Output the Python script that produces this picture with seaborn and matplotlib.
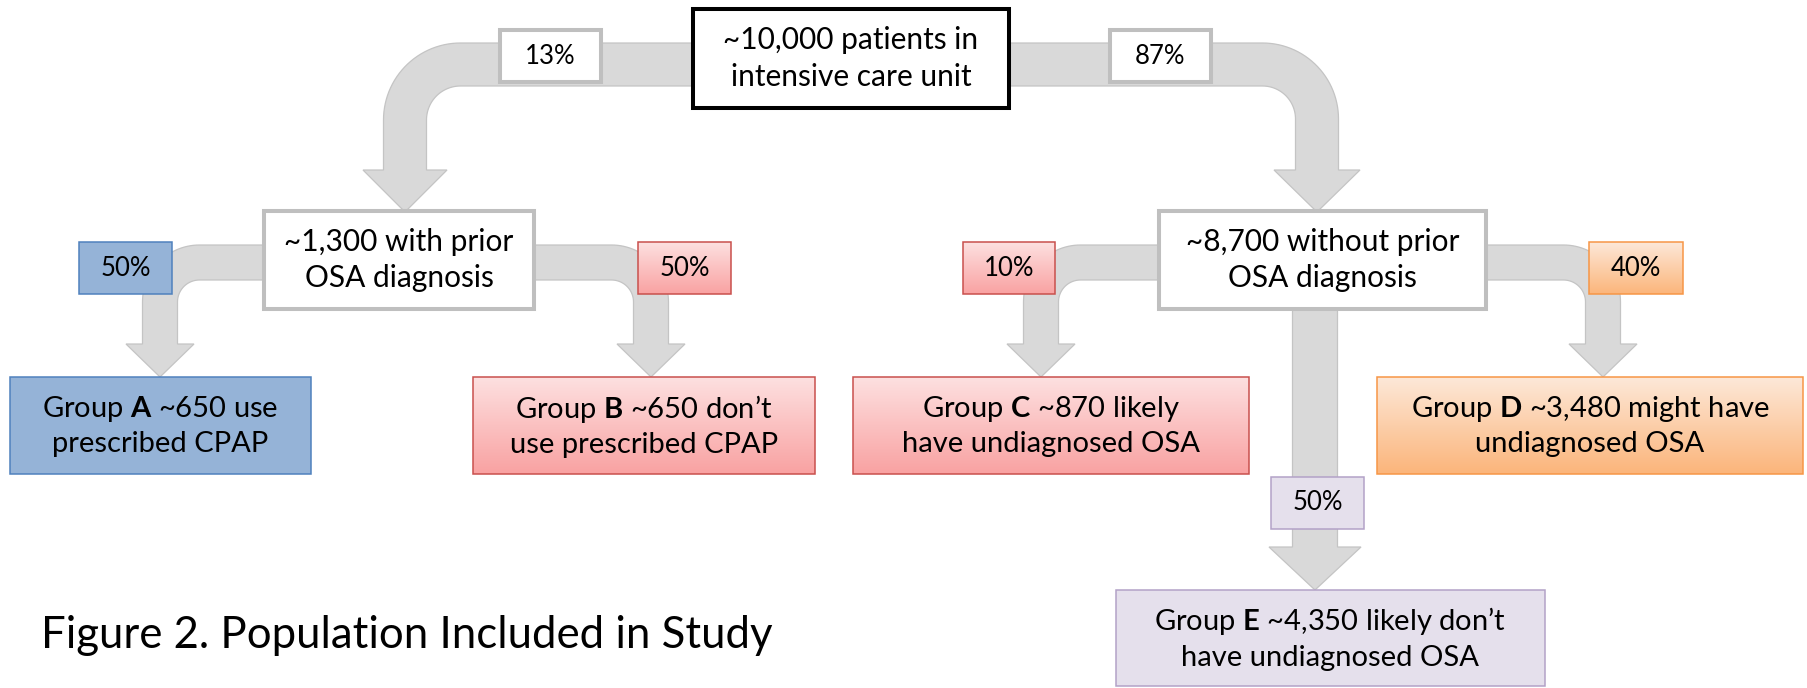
import numpy as np
import matplotlib
matplotlib.use("Agg")
import matplotlib.pyplot as plt
from matplotlib.patches import Rectangle, Polygon
import seaborn as sns

# ---------------- data ----------------
top_label = "~10,000 patients in\nintensive care unit"
mid_labels = ["~1,300 with prior\nOSA diagnosis", "~8,700 without prior\nOSA diagnosis"]
top_pcts = ["13%", "87%"]
sub_pcts = ["50%", "50%", "10%", "40%", "50%"]
group_letters = ["A", "B", "C", "D", "E"]
group_line1 = ["~650 use", "~650 don\u2019t", "~870 likely", "~3,480 might have", "~4,350 likely don\u2019t"]
group_line2 = ["prescribed CPAP", "use prescribed CPAP", "have undiagnosed OSA",
               "undiagnosed OSA", "have undiagnosed OSA"]
caption = "Figure 2. Population Included in Study"

# ---------------- style ----------------
sns.set_theme(style="white")
plt.rcParams["font.family"] = ["Lato", "DejaVu Sans"]
plt.rcParams["mathtext.fontset"] = "custom"
plt.rcParams["mathtext.rm"] = "Lato"
plt.rcParams["mathtext.bf"] = "Lato:bold"

ARROW_FC = "#d9d9d9"
ARROW_EC = "#c4c4c4"
GRAY_EC = "#bfbfbf"

# fills: (top colour, bottom colour, edge colour)
group_style = [
    ("#95b3d7", "#95b3d7", "#4f81bd"),
    ("#fde0e0", "#f9a2a2", "#c9504d"),
    ("#fde0e0", "#f9a2a2", "#c9504d"),
    ("#fde8d8", "#fbb57b", "#f79646"),
    ("#e5e0ec", "#e5e0ec", "#b3a2c7"),
]
sub_pct_style = [group_style[0], group_style[1], group_style[2], group_style[3], group_style[4]]

# layout (pixel coordinates of the 1808x688 canvas, y downwards)
top_box = (693, 9, 1009, 108)
mid_boxes = [(264, 211, 534, 309), (1159, 211, 1486, 309)]
top_pct_boxes = [(500, 30, 601, 82), (1110, 30, 1211, 82)]
sub_pct_boxes = [(79, 242, 172, 294), (638, 242, 731, 294), (963, 242, 1055, 294),
                 (1589, 242, 1683, 294), (1271, 477, 1364, 529)]
group_boxes = [(10, 377, 311, 474), (473, 377, 815, 474), (853, 377, 1249, 474),
               (1377, 377, 1803, 474), (1116, 590, 1545, 686)]

MAIN_FS = 21.5
GROUP_FS = 21
PCT_FS = 18.5
CAP_FS = 31.5
LS = 1.35

fig = plt.figure(figsize=(18.08, 6.88), dpi=100)
ax = fig.add_axes([0, 0, 1, 1])
ax.set_xlim(0, 1808)
ax.set_ylim(688, 0)
ax.axis("off")


def bent_arrow(x_start, band_top, width, tip_x, head_half, head_y, tip_y, radius):
    s = 1 if tip_x > x_start else -1
    outer_x = tip_x + s * width / 2
    inner_x = tip_x - s * width / 2
    cx = outer_x - s * radius
    cy = band_top + radius
    ri = radius - width
    t = np.linspace(0, np.pi / 2, 30)
    pts = [(x_start, band_top)]
    pts += list(zip(cx + s * radius * np.sin(t), cy - radius * np.cos(t)))
    pts += [(outer_x, head_y), (tip_x + s * head_half, head_y), (tip_x, tip_y),
            (tip_x - s * head_half, head_y), (inner_x, head_y)]
    t2 = t[::-1]
    pts += list(zip(cx + s * ri * np.sin(t2), cy - ri * np.cos(t2)))
    pts += [(x_start, band_top + width)]
    ax.add_patch(Polygon(pts, closed=True, fc=ARROW_FC, ec=ARROW_EC, lw=0.9, zorder=1))


def straight_arrow(x, y0, width, head_half, head_y, tip_y):
    pts = [(x - width / 2, y0), (x - width / 2, head_y), (x - head_half, head_y), (x, tip_y),
           (x + head_half, head_y), (x + width / 2, head_y), (x + width / 2, y0)]
    ax.add_patch(Polygon(pts, closed=True, fc=ARROW_FC, ec=ARROW_EC, lw=0.9, zorder=1))


def box(b, top_c, bot_c, edge, lw, z=3):
    x0, y0, x1, y1 = b
    if top_c == bot_c:
        ax.add_patch(Rectangle((x0, y0), x1 - x0, y1 - y0, fc=top_c, ec="none", zorder=z))
    else:
        c0 = np.array(matplotlib.colors.to_rgb(top_c))
        c1 = np.array(matplotlib.colors.to_rgb(bot_c))
        f = np.linspace(0, 1, 100)[:, None]
        grad = (c0 * (1 - f) + c1 * f)[:, None, :]
        ax.imshow(grad, extent=(x0, x1, y1, y0), origin="upper", aspect="auto",
                  interpolation="bilinear", zorder=z)
    ax.add_patch(Rectangle((x0, y0), x1 - x0, y1 - y0, fill=False, ec=edge, lw=lw,
                           zorder=z + 0.5, joinstyle="miter"))


def center(b):
    return (b[0] + b[2]) / 2, (b[1] + b[3]) / 2


# arrows
bent_arrow(720, 43, 43, 405, 42, 170, 212, 77)
bent_arrow(990, 43, 43, 1317, 43, 170, 212, 76)
bent_arrow(300, 245, 35, 160, 34, 344, 377, 57)
bent_arrow(500, 245, 35, 651, 34, 344, 377, 57)
bent_arrow(1200, 245, 35, 1041, 34, 344, 377, 57)
bent_arrow(1440, 245, 35, 1603, 34, 344, 377, 57)
straight_arrow(1315, 300, 45, 46, 547, 590)

# top box
box(top_box, "white", "white", "black", 2.9, z=4)
ax.text(*center(top_box), top_label, ha="center", va="center", fontsize=MAIN_FS,
        linespacing=LS, color="black", zorder=6)

for b, lab in zip(mid_boxes, mid_labels):
    box(b, "white", "white", GRAY_EC, 2.9, z=4)
    ax.text(*center(b), lab, ha="center", va="center", fontsize=MAIN_FS,
            linespacing=LS, color="black", zorder=6)

for b, lab in zip(top_pct_boxes, top_pcts):
    box(b, "white", "white", GRAY_EC, 2.9, z=4)
    ax.text(*center(b), lab, ha="center", va="center", fontsize=PCT_FS, color="black", zorder=6)

for b, lab, st in zip(sub_pct_boxes, sub_pcts, sub_pct_style):
    box(b, st[0], st[1], st[2], 1.1, z=4)
    ax.text(*center(b), lab, ha="center", va="center", fontsize=PCT_FS, color="black", zorder=6)

for b, L, l1, l2, st in zip(group_boxes, group_letters, group_line1, group_line2, group_style):
    box(b, st[0], st[1], st[2], 1.1, z=4)
    txt = "Group $\\mathbf{" + L + "}$ " + l1 + "\n" + l2
    ax.text(*center(b), txt, ha="center", va="center", fontsize=GROUP_FS,
            linespacing=LS, color="black", zorder=6)

ax.text(41, 648, caption, ha="left", va="baseline", fontsize=CAP_FS, color="black")

fig.savefig("out.png", dpi=100)
